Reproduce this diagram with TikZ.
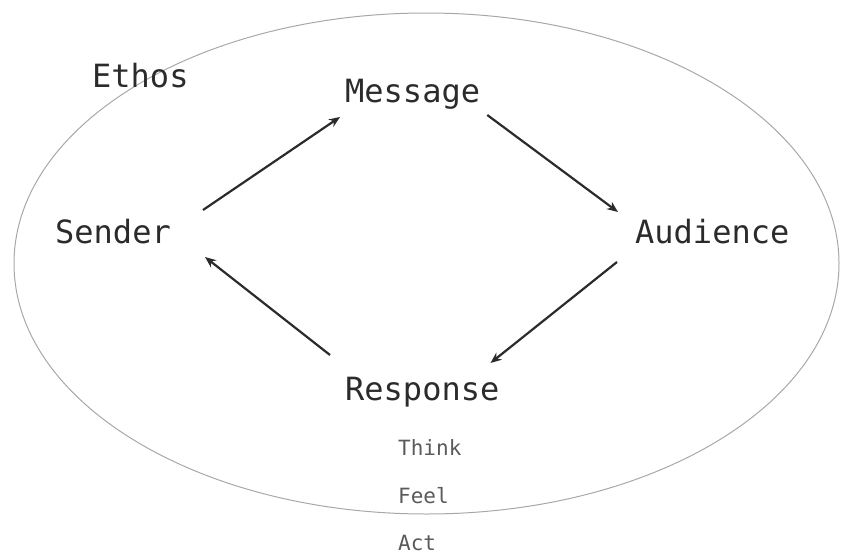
\documentclass[tikz,border=0pt]{standalone}
\usepackage{fontspec}
\setmonofont{DejaVu Sans Mono}
\usepackage{tikz}
\usetikzlibrary{arrows.meta}
\definecolor{ink}{HTML}{2B2B2B}
\definecolor{softink}{HTML}{5A5A5A}
\definecolor{rim}{HTML}{A8A8A8}
\newcommand{\flow}[2]{\draw[flowarrow] #1 -- #2;}

\begin{document}
\begin{tikzpicture}[x=1pt, y=-1pt,
    word/.style={anchor=base west, inner sep=0pt, text=ink,
        font=\ttfamily\fontsize{32}{36}\selectfont},
    smallword/.style={anchor=base west, inner sep=0pt, text=softink,
        font=\ttfamily\fontsize{21}{24}\selectfont},
    flowarrow/.style={line width=2.2pt, draw=ink,
        -{Stealth[length=11pt, width=9pt]}}]
        \useasboundingbox (0,0) rectangle (841,555);
        % outer ring
        \draw[rim, line width=1pt] (426.5,263.5) ellipse [x radius=412.5pt, y radius=250.5pt];
        % labels
        \node[word] (ethos) at (92,87) {Ethos};
        \node[word] (message) at (345,102) {Message};
        \node[word] (sender) at (55,243) {Sender};
        \node[word] (audience) at (635,243) {Audience};
        \node[word] (response) at (345,400) {Response};
        % kinds of response
        \node[smallword] (think) at (398,455) {Think};
        \node[smallword] (feel) at (398,503) {Feel};
        \node[smallword] (act) at (398,550) {Act};
        % cycle
        \flow{([shift={(32,-33)}]sender.base east)}{([shift={(-5,15)}]message.base west)}
        \flow{([shift={(7,13)}]message.base east)}{([shift={(-17,-31)}]audience.base west)}
        \flow{([shift={(-18,19)}]audience.base west)}{([shift={(-9,-37)}]response.base east)}
        \flow{([shift={(-15,-45)}]response.base west)}{([shift={(34,14)}]sender.base east)}
    \end{tikzpicture}
\end{document}
